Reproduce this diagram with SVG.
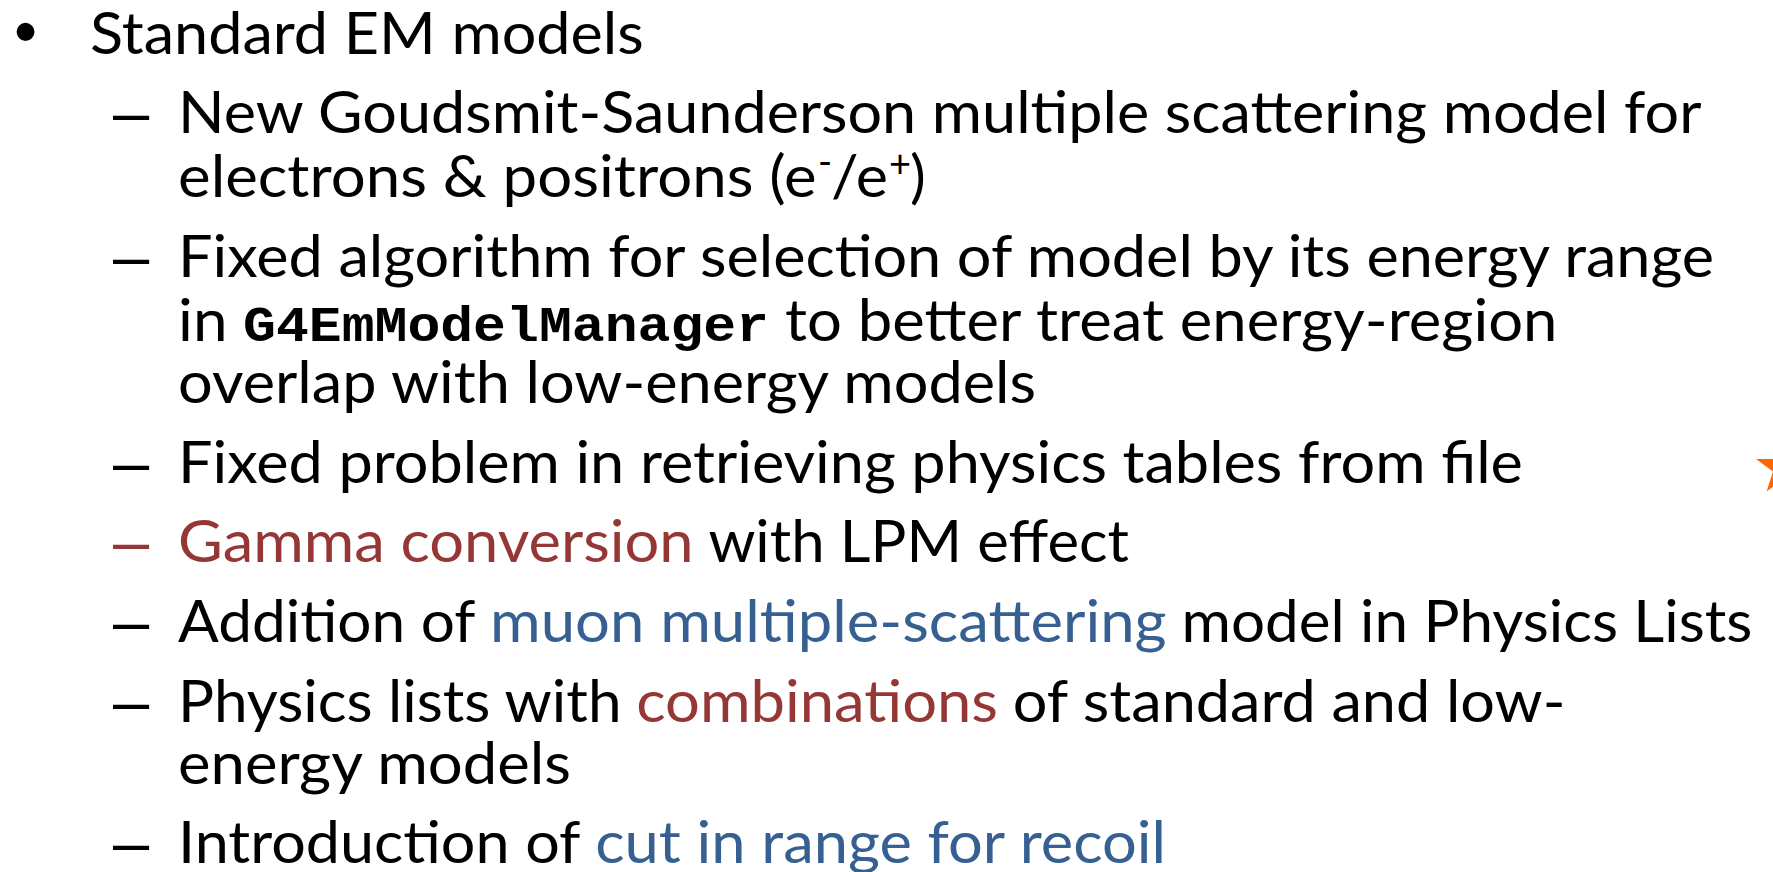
<svg xmlns="http://www.w3.org/2000/svg" width="1773" height="872" viewBox="0 0 1773 872">
  <style>
    .t { font-family: Lato, "Open Sans", "Liberation Sans", sans-serif; font-size: 59px; fill: #000; }
    .mono { font-family: "Liberation Mono", "Courier New", monospace; font-size: 50px; font-weight: bold; fill: #000; }
    .sup { font-size: 38px; }
    .dash { font-family: "Liberation Sans", Arial, sans-serif; font-size: 65px; fill: #000; }
    .bullet { font-family: "Liberation Sans", Arial, sans-serif; font-size: 66px; fill: #000; }
    .red { fill: #953735; }
    .blue { fill: #376092; }
  </style>
  <rect width="1773" height="872" fill="#ffffff"/>

  <!-- top-level bullet -->
  <g id="heading">
    <text class="bullet" x="14" y="54">•</text>
    <text class="t" x="90" y="54" textLength="553.7" lengthAdjust="spacingAndGlyphs">Standard EM models</text>
  </g>

  <!-- sub-items -->
  <g id="item-goudsmit">
    <text class="dash" x="113" y="134">–</text>
    <text class="t" x="178" y="133" textLength="1523.4" lengthAdjust="spacingAndGlyphs">New Goudsmit-Saunderson multiple scattering model for</text>
    <text class="t" y="197"><tspan x="178" textLength="638.6" lengthAdjust="spacingAndGlyphs">electrons &amp; positrons (e</tspan><tspan class="sup" x="818" dy="-22">-</tspan><tspan x="831" dy="22" textLength="57" lengthAdjust="spacingAndGlyphs">/e</tspan><tspan class="sup" x="889" dy="-20">+</tspan><tspan x="910" dy="20">)</tspan></text>
  </g>

  <g id="item-model-manager">
    <text class="dash" x="113" y="278">–</text>
    <text class="t" x="178" y="277" textLength="1536.1" lengthAdjust="spacingAndGlyphs">Fixed algorithm for selection of model by its energy range</text>
    <text class="t" x="178" y="341" textLength="49.5" lengthAdjust="spacingAndGlyphs">in</text>
    <text class="mono" x="243" y="341" textLength="526" lengthAdjust="spacingAndGlyphs">G4EmModelManager</text>
    <text class="t" x="785.1" y="341" textLength="772.4" lengthAdjust="spacingAndGlyphs">to better treat energy-region</text>
    <text class="t" x="178" y="403" textLength="858.1" lengthAdjust="spacingAndGlyphs">overlap with low-energy models</text>
  </g>

  <g id="item-tables">
    <text class="dash" x="113" y="484">–</text>
    <text class="t" x="178" y="483" textLength="1344.9" lengthAdjust="spacingAndGlyphs">Fixed problem in retrieving physics tables from file</text>
  </g>

  <g id="item-gamma">
    <text class="dash red" x="113" y="563">–</text>
    <text class="t" y="562"><tspan class="red" x="178" textLength="515.6" lengthAdjust="spacingAndGlyphs">Gamma conversion</tspan><tspan x="708.4" textLength="420.6" lengthAdjust="spacingAndGlyphs">with LPM effect</tspan></text>
  </g>

  <g id="item-muon">
    <text class="dash" x="113" y="643">–</text>
    <text class="t" y="642"><tspan x="178" textLength="297.3" lengthAdjust="spacingAndGlyphs">Addition of</tspan><tspan class="blue" x="490.1" textLength="676.5" lengthAdjust="spacingAndGlyphs">muon multiple-scattering</tspan><tspan x="1181.4" textLength="571" lengthAdjust="spacingAndGlyphs">model in Physics Lists</tspan></text>
  </g>

  <g id="item-combinations">
    <text class="dash" x="113" y="723">–</text>
    <text class="t" y="722"><tspan x="178" textLength="443.5" lengthAdjust="spacingAndGlyphs">Physics lists with</tspan><tspan class="red" x="636.3" textLength="361.7" lengthAdjust="spacingAndGlyphs">combinations</tspan><tspan x="1012.8" textLength="552.6" lengthAdjust="spacingAndGlyphs">of standard and low-</tspan></text>
    <text class="t" x="178" y="784" textLength="392.9" lengthAdjust="spacingAndGlyphs">energy models</text>
  </g>

  <g id="item-recoil">
    <text class="dash" x="113" y="864">–</text>
    <text class="t" y="863"><tspan x="178" textLength="402.5" lengthAdjust="spacingAndGlyphs">Introduction of</tspan><tspan class="blue" x="595.3" textLength="570.7" lengthAdjust="spacingAndGlyphs">cut in range for recoil</tspan></text>
  </g>

  <!-- orange star marker, mostly beyond the right edge -->
  <g id="star">
    <polygon fill="#ff6600" points="1783.6,439 1790.1,459 1811.2,459 1794.2,471.4 1800.6,491.5 1783.6,479.1 1766.6,491.5 1773,471.4 1756,459 1777.1,459"/>
  </g>
</svg>
